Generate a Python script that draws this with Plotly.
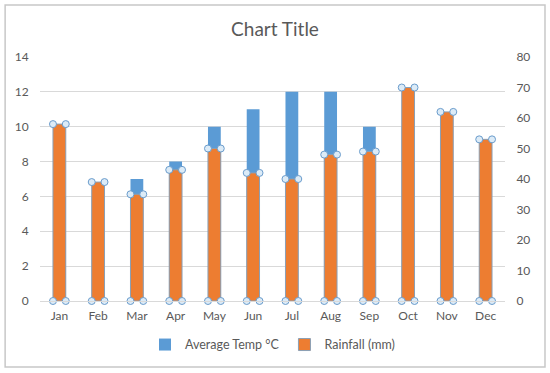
import plotly.graph_objects as go

months = ["Jan", "Feb", "Mar", "Apr", "May", "Jun", "Jul", "Aug", "Sep", "Oct", "Nov", "Dec"]
avg_temp = [6, 6, 7, 8, 10, 11, 12, 12, 10, 10, 8, 7]
rainfall = [58, 39, 35, 43, 50, 42, 40, 48, 49, 70, 62, 53]
left_ticks = [0, 2, 4, 6, 8, 10, 12, 14]
right_ticks = [0, 10, 20, 30, 40, 50, 60, 70, 80]

BAR_W = 0.33
xs = list(range(len(months)))
FONT = "Lato, 'Open Sans', sans-serif"
GREY = "#595959"

fig = go.Figure()
fig.add_trace(go.Bar(x=xs, y=avg_temp, width=BAR_W, name="Average Temp °C",
                     marker=dict(color="#5b9bd5", line=dict(width=0)), yaxis="y"))
fig.add_trace(go.Bar(x=xs, y=rainfall, width=BAR_W, name="Rainfall (mm)",
                     marker=dict(color="#ed7d31", line=dict(width=1, color="#8a9fb5")), yaxis="y2"))

# selection handles at bar corners (derived from data)
hx, hy = [], []
for i, r in zip(xs, rainfall):
    for dx in (-BAR_W / 2, BAR_W / 2):
        hx += [i + dx, i + dx]
        hy += [r, 0]
fig.add_trace(go.Scatter(x=hx, y=hy, mode="markers", yaxis="y2", showlegend=False,
                         hoverinfo="skip", cliponaxis=False,
                         marker=dict(symbol="circle", size=7, color="#dcebf7",
                                     line=dict(width=1, color="#6a9ccc"))))

fig.update_layout(
    width=550, height=373,
    margin=dict(l=40, r=45, t=57, b=72),
    paper_bgcolor="white", plot_bgcolor="white",
    barmode="overlay",
    font=dict(family=FONT, size=12, color=GREY),
    title=dict(text="Chart Title", x=0.5, xanchor="center", y=0.92, yanchor="middle",
               font=dict(family=FONT, size=19, color=GREY)),
    xaxis=dict(tickmode="array", tickvals=xs, ticktext=months, range=[-0.5, 11.5],
               showgrid=False, zeroline=False, showline=True, linecolor="#d9d9d9",
               ticks="outside", ticklen=4, tickcolor="rgba(0,0,0,0)",
               tickfont=dict(size=12, color=GREY)),
    yaxis=dict(range=[0, 14], tickvals=left_ticks, showgrid=True, gridcolor="#d9d9d9",
               zeroline=False, showline=False, ticks="outside", ticklen=8,
               tickcolor="rgba(0,0,0,0)", tickfont=dict(size=12, color=GREY)),
    yaxis2=dict(range=[0, 80], tickvals=right_ticks, overlaying="y", side="right",
                showgrid=False, zeroline=False, showline=False, ticks="outside", ticklen=8,
                tickcolor="rgba(0,0,0,0)", tickfont=dict(size=12, color=GREY)),
    legend=dict(orientation="h", x=0.5, xanchor="center", y=-0.18, yanchor="middle",
                font=dict(size=12.5, color=GREY), traceorder="normal", itemwidth=30),
    shapes=[dict(type="rect", xref="paper", yref="paper", x0=-0.075, x1=1.086,
                 y0=-0.27, y1=1.213, line=dict(color="#c8c8c8", width=1.5),
                 fillcolor="rgba(0,0,0,0)", layer="below")],
)

fig.write_html("out.html", config={"displayModeBar": False},
               post_script="document.body.style.margin='0';")
